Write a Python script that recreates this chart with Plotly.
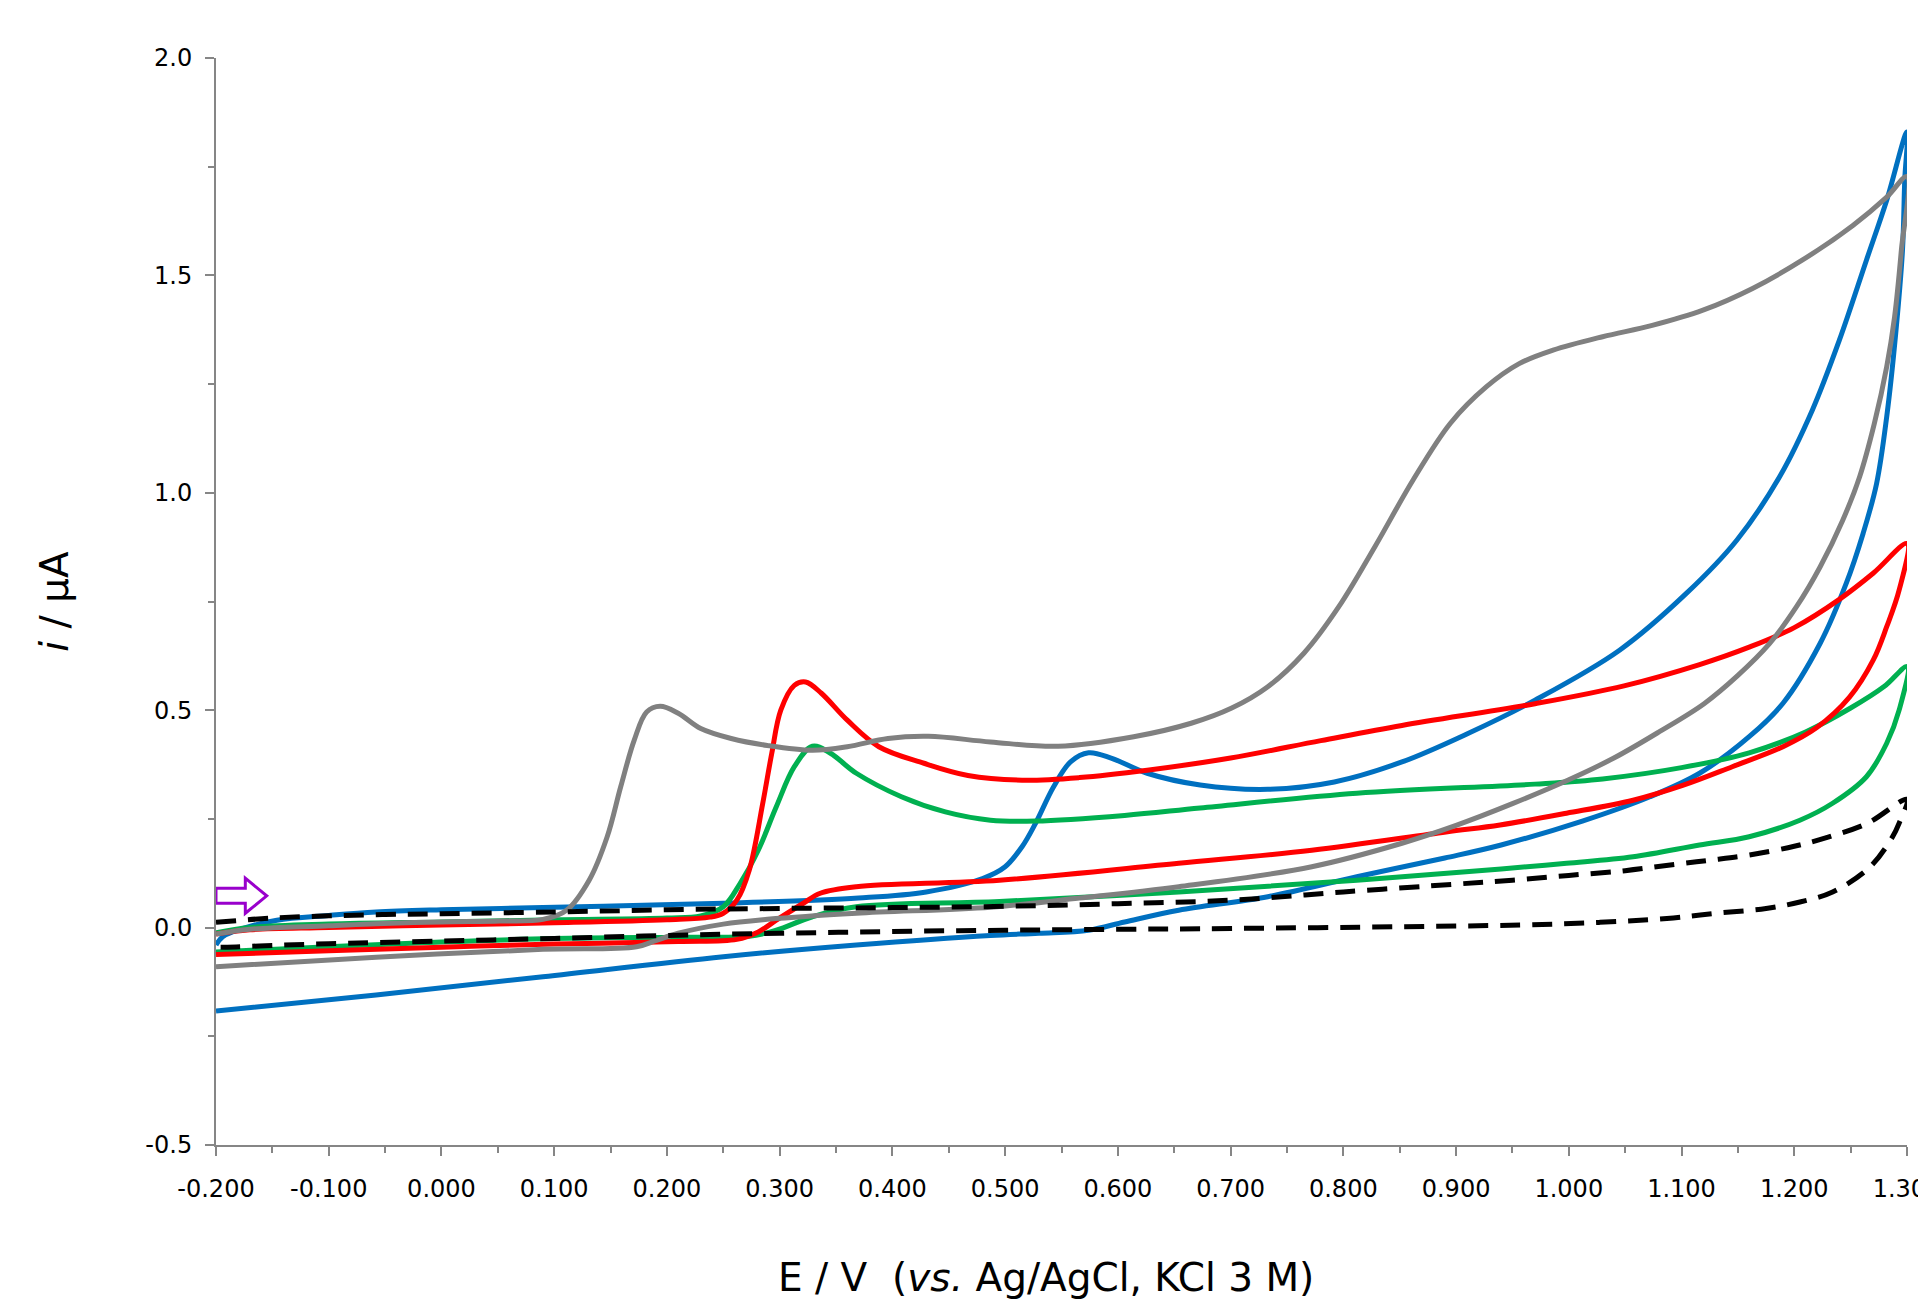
import plotly.graph_objects as go

# ---------------- data (E in V, i in µA) ----------------
blank_E = [-0.2, -0.15, -0.1, -0.05, 0.0, 0.1, 0.2, 0.3, 0.4, 0.5, 0.6, 0.7, 0.8, 0.9, 0.95, 1.0, 1.05, 1.09, 1.125, 1.16, 1.2, 1.23, 1.265, 1.3,
           1.293, 1.287, 1.267, 1.234, 1.205, 1.175, 1.131, 1.087, 1.027, 0.957, 0.85, 0.7, 0.6, 0.5, 0.4, 0.3, 0.2, 0.1, 0.0, -0.1, -0.15, -0.19, -0.2]
blank_I = [0.012, 0.022, 0.027, 0.030, 0.032, 0.036, 0.041, 0.044, 0.046, 0.049, 0.055, 0.063, 0.082, 0.100, 0.109, 0.120, 0.131, 0.144, 0.155, 0.167, 0.187, 0.208, 0.240, 0.295,
           0.240, 0.208, 0.139, 0.082, 0.059, 0.044, 0.033, 0.021, 0.012, 0.006, 0.002, -0.002, -0.004, -0.006, -0.009, -0.013, -0.018, -0.025, -0.031, -0.037, -0.041, -0.045, -0.045]

blue_E = [-0.2, -0.194, -0.176, -0.146, -0.1, -0.058, 0.0, 0.09, 0.17, 0.25, 0.37, 0.43, 0.48, 0.50, 0.515, 0.527, 0.543, 0.558, 0.574, 0.594, 0.626, 0.673, 0.733, 0.792, 0.852, 0.911, 0.97, 1.045, 1.104, 1.149, 1.187, 1.216, 1.24, 1.264, 1.282, 1.3,
          1.298, 1.296, 1.29, 1.282, 1.273, 1.261, 1.246, 1.223, 1.19, 1.16, 1.116, 1.072, 1.012, 0.94, 0.89, 0.812, 0.733, 0.654, 0.606, 0.574, 0.53, 0.487, 0.368, 0.25, 0.09, -0.058, -0.2]
blue_I = [-0.040, -0.021, -0.002, 0.017, 0.028, 0.036, 0.041, 0.046, 0.051, 0.056, 0.068, 0.082, 0.113, 0.140, 0.186, 0.240, 0.324, 0.381, 0.402, 0.390, 0.355, 0.328, 0.318, 0.335, 0.381, 0.447, 0.523, 0.638, 0.768, 0.891, 1.037, 1.190, 1.351, 1.535, 1.673, 1.830,
          1.720, 1.558, 1.367, 1.175, 1.021, 0.906, 0.791, 0.654, 0.516, 0.439, 0.355, 0.301, 0.245, 0.190, 0.160, 0.117, 0.071, 0.040, 0.013, -0.006, -0.013, -0.018, -0.040, -0.067, -0.113, -0.155, -0.192]

green_E = [-0.2, -0.17, -0.1, 0.0, 0.1, 0.2, 0.23, 0.25, 0.265, 0.281, 0.297, 0.313, 0.329, 0.345, 0.368, 0.408, 0.447, 0.487, 0.527, 0.606, 0.673, 0.812, 0.97, 1.03, 1.1, 1.16, 1.21, 1.25, 1.28, 1.3,
           1.293, 1.282, 1.264, 1.234, 1.205, 1.16, 1.116, 1.057, 0.998, 0.94, 0.812, 0.654, 0.495, 0.368, 0.329, 0.297, 0.273, 0.21, 0.1, 0.0, -0.1, -0.2]
green_I = [-0.012, 0.000, 0.008, 0.013, 0.018, 0.022, 0.027, 0.048, 0.102, 0.178, 0.278, 0.370, 0.417, 0.401, 0.355, 0.301, 0.266, 0.247, 0.245, 0.258, 0.275, 0.309, 0.330, 0.342, 0.368, 0.402, 0.450, 0.505, 0.555, 0.600,
           0.500, 0.424, 0.347, 0.286, 0.247, 0.209, 0.190, 0.163, 0.148, 0.135, 0.109, 0.082, 0.060, 0.048, 0.025, -0.006, -0.020, -0.022, -0.025, -0.033, -0.044, -0.056]

red_E = [-0.2, -0.17, -0.1, 0.0, 0.1, 0.2, 0.238, 0.25, 0.262, 0.273, 0.285, 0.293, 0.301, 0.313, 0.323, 0.337, 0.36, 0.388, 0.428, 0.467, 0.515, 0.566, 0.626, 0.7, 0.78, 0.852, 0.97, 1.049, 1.116, 1.16, 1.2, 1.24, 1.27, 1.3,
         1.293, 1.282, 1.27, 1.249, 1.22, 1.19, 1.145, 1.101, 1.057, 0.998, 0.939, 0.891, 0.772, 0.654, 0.495, 0.368, 0.336, 0.321, 0.297, 0.281, 0.262, 0.21, 0.1, 0.0, -0.1, -0.2]
red_I = [-0.015, -0.005, 0.000, 0.006, 0.011, 0.018, 0.024, 0.033, 0.063, 0.132, 0.286, 0.401, 0.500, 0.557, 0.565, 0.539, 0.477, 0.416, 0.378, 0.350, 0.339, 0.345, 0.362, 0.390, 0.430, 0.465, 0.515, 0.556, 0.605, 0.645, 0.690, 0.755, 0.815, 0.883,
         0.776, 0.692, 0.615, 0.530, 0.460, 0.416, 0.370, 0.327, 0.293, 0.263, 0.236, 0.220, 0.178, 0.148, 0.109, 0.094, 0.079, 0.056, 0.017, -0.010, -0.027, -0.032, -0.038, -0.045, -0.053, -0.062]

gray_E = [-0.2, -0.17, -0.1, -0.058, 0.0, 0.052, 0.09, 0.111, 0.131, 0.147, 0.159, 0.171, 0.182, 0.194, 0.21, 0.23, 0.257, 0.289, 0.329, 0.36, 0.396, 0.432, 0.487, 0.547, 0.614, 0.665, 0.701, 0.733, 0.765, 0.796, 0.828, 0.862, 0.895, 0.927, 0.956, 0.986, 1.03, 1.074, 1.119, 1.163, 1.207, 1.252, 1.282, 1.3,
          1.295, 1.289, 1.282, 1.271, 1.258, 1.243, 1.223, 1.202, 1.178, 1.15, 1.12, 1.08, 1.04, 1.0, 0.95, 0.9, 0.852, 0.772, 0.654, 0.566, 0.487, 0.368, 0.289, 0.25, 0.21, 0.19, 0.173, 0.09, -0.058, -0.2]
gray_I = [-0.015, -0.004, 0.004, 0.009, 0.013, 0.015, 0.019, 0.040, 0.109, 0.209, 0.324, 0.431, 0.496, 0.509, 0.493, 0.458, 0.435, 0.419, 0.408, 0.416, 0.435, 0.440, 0.427, 0.417, 0.439, 0.470, 0.505, 0.554, 0.631, 0.738, 0.876, 1.030, 1.160, 1.244, 1.297, 1.328, 1.359, 1.385, 1.420, 1.470, 1.535, 1.615, 1.680, 1.727,
          1.558, 1.405, 1.290, 1.159, 1.037, 0.937, 0.830, 0.738, 0.653, 0.580, 0.515, 0.450, 0.390, 0.340, 0.285, 0.235, 0.194, 0.140, 0.094, 0.068, 0.047, 0.033, 0.019, 0.008, -0.013, -0.030, -0.044, -0.050, -0.068, -0.090]

x_tick_vals = [-0.2, -0.1, 0.0, 0.1, 0.2, 0.3, 0.4, 0.5, 0.6, 0.7, 0.8, 0.9, 1.0, 1.1, 1.2, 1.3]
x_tick_text = ["-0.200", "-0.100", "0.000", "0.100", "0.200", "0.300", "0.400", "0.500", "0.600",
               "0.700", "0.800", "0.900", "1.000", "1.100", "1.200", "1.300"]
y_tick_vals = [-0.5, 0.0, 0.5, 1.0, 1.5, 2.0]
y_tick_text = ["-0.5", "0.0", "0.5", "1.0", "1.5", "2.0"]

x_title = "E / V\u00a0\u00a0(<i>vs.</i> Ag/AgCl, KCl 3 M)"
y_title = "<i>i</i> / µA"

# ---------------- figure ----------------
FONT = "DejaVu Sans"
AXIS_COL = "#868686"

fig = go.Figure()
series = [
    (blue_E, blue_I, "#0070C0", "solid"),
    (green_E, green_I, "#00B050", "solid"),
    (red_E, red_I, "#FF0000", "solid"),
    (gray_E, gray_I, "#808080", "solid"),
    (blank_E, blank_I, "#000000", "20px,12px"),
]
for E, I, col, dash in series:
    fig.add_trace(go.Scatter(x=E, y=I, mode="lines", cliponaxis=False,
                             line=dict(color=col, width=5, dash=dash, shape="spline", smoothing=1.0),
                             showlegend=False, hoverinfo="skip"))

# hollow purple arrow indicating scan direction
fig.add_shape(type="path", xref="x", yref="y",
              path="M -0.2,0.056 L -0.174,0.056 L -0.174,0.033 L -0.155,0.073 L -0.174,0.1136 L -0.174,0.0906 L -0.2,0.0906 Z",
              line=dict(color="#9900CC", width=3), fillcolor="white", layer="above")

# x-axis title (as annotation to match the reference's slightly off-centre placement)
fig.add_annotation(text=x_title, xref="paper", yref="paper", x=0.491, y=0,
                   xanchor="center", yanchor="middle", yshift=-132, showarrow=False,
                   font=dict(family=FONT, size=39, color="black"))

fig.update_layout(
    width=1918, height=1292,
    margin=dict(l=208, r=19, t=50, b=155),
    paper_bgcolor="white", plot_bgcolor="white",
    font=dict(family=FONT, size=24, color="black"),
)
fig.update_xaxes(
    range=[-0.2, 1.3], showgrid=False, zeroline=False,
    showline=True, linecolor=AXIS_COL, linewidth=2,
    ticks="outside", ticklen=9, tickwidth=1.5, tickcolor=AXIS_COL,
    tickvals=x_tick_vals, ticktext=x_tick_text, tickfont=dict(family=FONT, size=24),
    ticklabelstandoff=12, ticklabeloverflow="allow",
    minor=dict(dtick=0.05, tick0=-0.2, ticks="outside", ticklen=6, tickcolor=AXIS_COL, tickwidth=1.5, showgrid=False),
    automargin=False,
)
fig.update_yaxes(
    range=[-0.5, 2.0], showgrid=False, zeroline=False,
    showline=True, linecolor=AXIS_COL, linewidth=2,
    ticks="outside", ticklen=9, tickwidth=1.5, tickcolor=AXIS_COL,
    tickvals=y_tick_vals, ticktext=y_tick_text, tickfont=dict(family=FONT, size=24),
    ticklabelstandoff=8,
    minor=dict(dtick=0.25, tick0=-0.5, ticks="outside", ticklen=6, tickcolor=AXIS_COL, tickwidth=1.5, showgrid=False),
    title=dict(text=y_title, font=dict(family=FONT, size=39), standoff=65),
    automargin=False,
)

fig.write_html("out.html")
